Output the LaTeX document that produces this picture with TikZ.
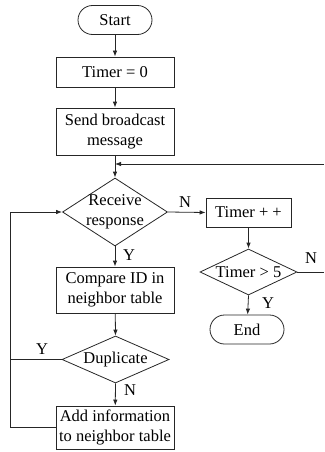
\documentclass[tikz,border=0pt]{standalone}
\usepackage{fontspec}
\setmainfont{Liberation Serif}
\usetikzlibrary{shapes.geometric,arrows.meta}
\begin{document}
\begin{tikzpicture}[x=1pt,y=-1pt,
  every node/.style={font=\fontsize{16.5}{19.5}\selectfont},
  base/.style={draw=black!85,line width=0.8pt,inner sep=0pt,align=center},
  proc/.style={base,rectangle,minimum width=118pt},
  term/.style={base,rectangle,rounded corners=14.5pt,minimum width=74pt,minimum height=29pt},
  dia/.style={base,diamond},
  txt/.style={inner sep=0pt,align=center},
  lab/.style={inner sep=0pt},
  link/.style={draw=black!85,line width=0.8pt},
  arr/.style={link,-{Latex[length=6pt,width=4.5pt]}}]
\useasboundingbox (0,0) rectangle (324,452);

% main column
\node[term] (start) at (115,20) {Start};
\node[proc,minimum height=30pt] (t0) at (115,72) {Timer = 0};
\node[proc,minimum height=47pt] (send) at (115,131.5) {Send broadcast\\message};
\node[dia,minimum width=105pt,minimum height=68pt] (recv) at (115,212) {};
\node[txt] at (recv) {Receive\\response};
\node[proc,minimum height=46pt] (cmp) at (115,290) {Compare ID in\\neighbor table};
\node[dia,minimum width=107pt,minimum height=47pt] (dup) at (115.5,359.5) {};
\node[txt] at (dup) {Duplicate};
\node[proc,minimum height=43pt] (add) at (115,427.5) {Add information\\to neighbor table};

% timer branch
\node[proc,minimum width=85pt,minimum height=29pt] (tinc) at (248.5,212.5) {Timer + +};
\node[dia,minimum width=97pt,minimum height=46pt] (tgt) at (248.5,272) {};
\node[txt] at (tgt) {Timer > 5};
\node[term] (endn) at (247,329.5) {End};

\coordinate (fbR) at (324,164);
\coordinate (tgtR) at (324,272);
\coordinate (loopX) at (10,0);

% connectors
\draw[arr] (start) -- (t0);
\draw[arr] (t0) -- (send);
\draw[arr] (send) -- (recv.north);
\draw[arr] (fbR) -- (send.south |- fbR);
\draw[arr] (recv.east) -- (tinc.west -| tinc.west);
\draw[arr] (tinc) -- (tgt.north);
\draw[link] (tgt.east) -- (tgtR);
\draw[arr] (tgt.south) -- (endn);
\draw[arr] (recv.south) -- (cmp);
\draw[arr] (cmp) -- (dup.north);
\draw[arr] (dup.south) -- (add);
\draw[link] (dup.west) -- (loopX |- dup.west);
\draw[arr] (add.west) -- (loopX |- add.west) -- (loopX |- recv.west) -- (recv.west);

% branch labels
\node[lab] at (185,202) {N};
\node[lab] at (311,258) {N};
\node[lab] at (268,303) {Y};
\node[lab] at (129,255) {Y};
\node[lab] at (42,349) {Y};
\node[lab] at (130,390) {N};
\end{tikzpicture}
\end{document}
